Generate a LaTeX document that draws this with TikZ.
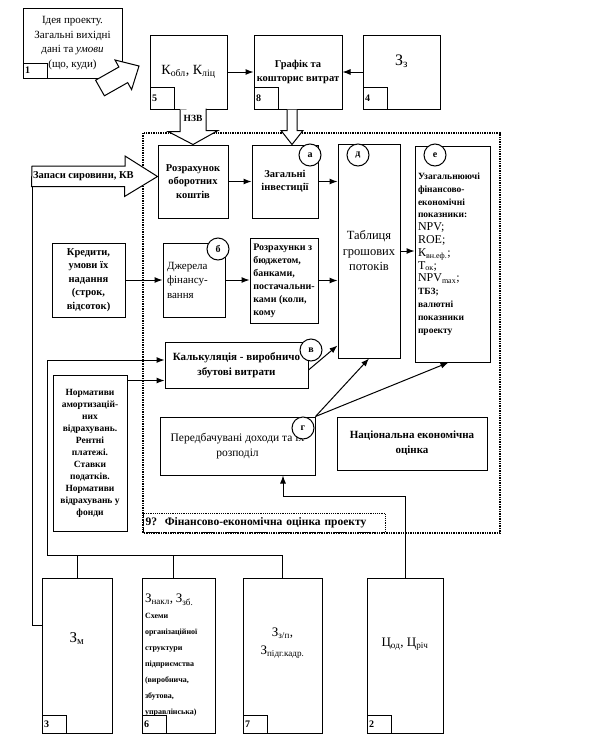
\documentclass[tikz,border=0pt]{standalone}
\usepackage{fontspec}
\setmainfont{Liberation Serif}
\usetikzlibrary{arrows.meta, positioning, calc}

\begin{document}
\begin{tikzpicture}[
  x=1pt, y=-1pt,
  box/.style={draw, line width=1pt, align=center, inner sep=2pt,
              font=\fontsize{10.5}{13.5}\selectfont\bfseries},
  numbox/.style={draw, line width=1pt, anchor=south west, inner sep=2pt,
              text width=20pt, align=left, minimum height=22pt,
              font=\fontsize{10}{11}\selectfont\bfseries},
  letter/.style={draw, circle, line width=1pt, fill=white, inner sep=0pt,
              minimum size=22pt, font=\fontsize{10}{11}\selectfont\bfseries},
  arr/.style={-{Latex[length=8pt, width=6pt]}, line width=1pt},
  wire/.style={line width=1pt},
  fat/.style={draw, line width=1pt, fill=white, line join=miter},
  frame/.style={densely dotted, line width=1.4pt},
]
\useasboundingbox (0,0) rectangle (600,739);
%% Frame of block 9
\draw[frame] (143,133) rectangle (500,533);
\node[draw, frame, line width=1.2pt, anchor=south west, inner sep=2pt, minimum height=19pt,
      text width=238pt, align=left, font=\fontsize{11.5}{12}\selectfont\bfseries] (lab) at (143,533)
  {9?\ \ Фінансово-економічна оцінка проекту};
%% Top row
\node[box, font=\fontsize{11}{14.5}\selectfont, minimum width=99pt, minimum height=70pt] (idea) at (72.5,43)
  {Ідея проекту.\\Загальні вихідні\\дані та \textit{умови}\\(що, куди)};
\node[numbox, minimum height=15pt] (n1) at (idea.south west) {1};
\node[box, font=\fontsize{14}{16}\selectfont, minimum width=77pt, minimum height=74pt] (kobl) at (188.5,72)
  {К\textsubscript{обл}, К\textsubscript{ліц}};
\node[numbox] (n5) at (kobl.south west) {5};
\node[box, minimum width=88pt, minimum height=74pt] (graf) at (298,72) {Графік та\\кошторис витрат};
\node[numbox] (n8) at (graf.south west) {8};
\node[box, font=\fontsize{16}{18}\selectfont, minimum width=77pt, minimum height=74pt] (zz) at (401.5,72)
  {З\textsubscript{з}\\[6pt]};
\node[numbox] (n4) at (zz.south west) {4};
%% Inside block 9
\node[box, minimum width=70pt, minimum height=73pt] (rozr) at (193,181.5) {Розрахунок\\оборотних\\коштів};
\node[box, minimum width=66pt, minimum height=73pt] (zag) at (285,181.5) {Загальні\\інвестиції};
\node[box, font=\fontsize{12.5}{15.5}\selectfont, minimum width=62pt, minimum height=214pt] (tabl) at (369,251)
  {Таблиця\\грошових\\потоків};
\node[box, font=\fontsize{9.5}{12.8}\selectfont\bfseries, align=left, text width=69pt,
      minimum width=75pt, minimum height=216pt] (uzag) at (452.5,254)
  {Узагальнюючі\\фінансово-\\економічні\\показники:\\
   {\fontsize{12}{12}\selectfont\mdseries NPV;}\\
   {\fontsize{12}{12}\selectfont\mdseries ROE;}\\
   {\fontsize{12}{12}\selectfont\mdseries К\textsubscript{вн.еф.};}\\
   {\fontsize{12}{12}\selectfont\mdseries Т\textsubscript{ок};}\\
   {\fontsize{12}{12}\selectfont\mdseries NPV\textsubscript{max};}\\
   ТБЗ;\\валютні\\показники\\проекту};
\node[box, font=\fontsize{11}{14.5}\selectfont, align=left, text width=54pt,
      minimum width=62pt, minimum height=74pt] (dzh) at (194,280)
  {Джерела\\фінансу-\\вання\\[4pt]};
\node[box, font=\fontsize{10}{13}\selectfont\bfseries, align=left, minimum width=68pt, minimum height=85pt] (rozrb) at (284,280.5)
  {Розрахунки з\\бюджетом,\\банками,\\постачальни-\\ками (коли,\\кому};
\node[box, font=\fontsize{11}{15}\selectfont\bfseries, minimum width=143pt, minimum height=46pt] (kalk) at (236.5,365)
  {Калькуляція - виробничо\\збутові витрати};
\node[box, font=\fontsize{11.5}{15}\selectfont, minimum width=155pt, minimum height=58pt] (pered) at (237.5,446)
  {Передбачувані доходи та їх\\розподіл};
\node[box, font=\fontsize{11}{15}\selectfont\bfseries, minimum width=150pt, minimum height=53pt] (nats) at (412,443.5)
  {Національна економічна\\оцінка};
%% Left column
\node[box, font=\fontsize{10.5}{13.5}\selectfont\bfseries, minimum width=73pt, minimum height=74pt] (kred) at (88.5,280)
  {Кредити,\\умови їх\\надання\\(строк,\\відсоток)};
\node[box, font=\fontsize{9.5}{12}\selectfont\bfseries, minimum width=74pt, minimum height=156pt] (norm) at (90,453)
  {Нормативи\\амортизацій-\\них\\відрахувань.\\Рентні\\платежі.\\Ставки\\податків.\\Нормативи\\відрахувань у\\фонди};
%% Bottom row
\node[box, font=\fontsize{15}{18}\selectfont\mdseries, minimum width=70pt, minimum height=155pt] (zm) at (77,655.5)
  {З\textsubscript{м}\\[18pt]};
\node[numbox, minimum height=18pt] (n3) at (zm.south west) {3};
\node[box, font=\fontsize{8}{16}\selectfont\bfseries, align=left, text width=67pt,
      minimum width=73pt, minimum height=155pt] (zn) at (178.5,655.5)
  {{\fontsize{13}{15}\selectfont\mdseries З\textsubscript{накл}, З\textsubscript{зб.}}\\Схеми\\організаційної\\структури\\підприємства\\(виробнича,\\збутова,\\управлінська)};
\node[numbox, minimum height=18pt] (n6) at (zn.south west) {6};
\node[box, font=\fontsize{13}{18}\selectfont\mdseries, minimum width=79pt, minimum height=155pt] (zp) at (282.5,655.5)
  {З\textsubscript{з/п},\\З\textsubscript{підг.кадр.}\\[10pt]};
\node[numbox, minimum height=18pt] (n7) at (zp.south west) {7};
\node[box, font=\fontsize{13}{16}\selectfont\mdseries, minimum width=76pt, minimum height=155pt] (tsin) at (405,655.5)
  {Ц\textsubscript{од}, Ц\textsubscript{річ}\\[10pt]};
\node[numbox, minimum height=18pt] (n2) at (tsin.south west) {2};
%% Block arrows
\draw[fat] (95.6,80.2) -- (118.9,67) -- (115,60) -- (139,66) -- (131.6,89.6) -- (127.7,82.6) -- (104.4,95.8) -- cycle;
\draw[fat] ($(rozr.north |- kobl.south)+(-13,0)$) -- ++(0,22) -- ++(-12,0) -- (rozr.north)
  -- ++(25,-14) -- ++(-12,0) -- ++(0,-22);
\node[font=\fontsize{9.5}{11}\selectfont\bfseries] (nzv) at (193,118) {НЗВ};
\draw[fat] ([xshift=-11pt]graf.south) -- ++(0,21) -- ++(-6,0) -- ++(11,14) -- ++(11,-14) -- ++(-6,0) -- ++(0,-21);
\coordinate (zapas) at (32,176);
\draw[fat] (zapas) ++(0,-10) -- ++(93,0) -- ++(0,-10) -- ([yshift=5pt]rozr.west) -- ++(-33,20)
  -- ++(0,-10) -- ++(-93,0) -- cycle;
\node[font=\fontsize{10.5}{12}\selectfont\bfseries, anchor=west, inner sep=1pt] (zaptext) at (zapas) {Запаси сировини, КВ};
%% Letters
\node[letter] (la) at (310,155) {а};
\node[letter] (ld) at (358,155) {д};
\node[letter] (le) at (435,155) {е};
\node[letter] (lb) at (218,249) {б};
\node[letter] (lv) at (311,350) {в};
\node[letter] (lg) at (303,428) {г};
%% Arrows
\draw[arr] (kobl) -- (graf);
\draw[arr] (zz) -- (graf);
\draw[arr] (rozr) -- (zag);
\draw[arr] (zag.east) -- (zag.east -| tabl.west);
\draw[arr] (tabl.east) -- (tabl.east -| uzag.west);
\draw[arr] (kred) -- (dzh);
\draw[arr] (dzh.east) -- (dzh.east -| rozrb.west);
\draw[arr] (rozrb.east) -- (rozrb.east -| tabl.west);
\draw[arr] ([yshift=-5pt]kalk.east) -- ([yshift=13pt]tabl.south west);
\draw[arr] (pered.north east) -- (tabl.south);
\draw[arr] (pered.north east) -- ([xshift=-4pt]uzag.south);
\draw[arr] ([yshift=-6pt]norm.north east) -- ([yshift=-6pt]norm.north east -| kalk.west);
%% Bus from the bottom blocks
\coordinate (bus) at (47,555);
\draw[arr] (zp.north) |- (bus) |- ([yshift=5pt]kalk.west);
\draw[wire] (zm.north) -- (zm.north |- bus);
\draw[wire] ([xshift=-5pt]zn.north) -- ([xshift=-5pt]zn.north |- bus);
\draw[wire] (zapas) ++(0,10) |- ([yshift=30pt]zm.west);
\draw[arr] (tsin.north) -- ++(0,-81) -| ([xshift=45.5pt]pered.south);
\end{tikzpicture}
\end{document}
